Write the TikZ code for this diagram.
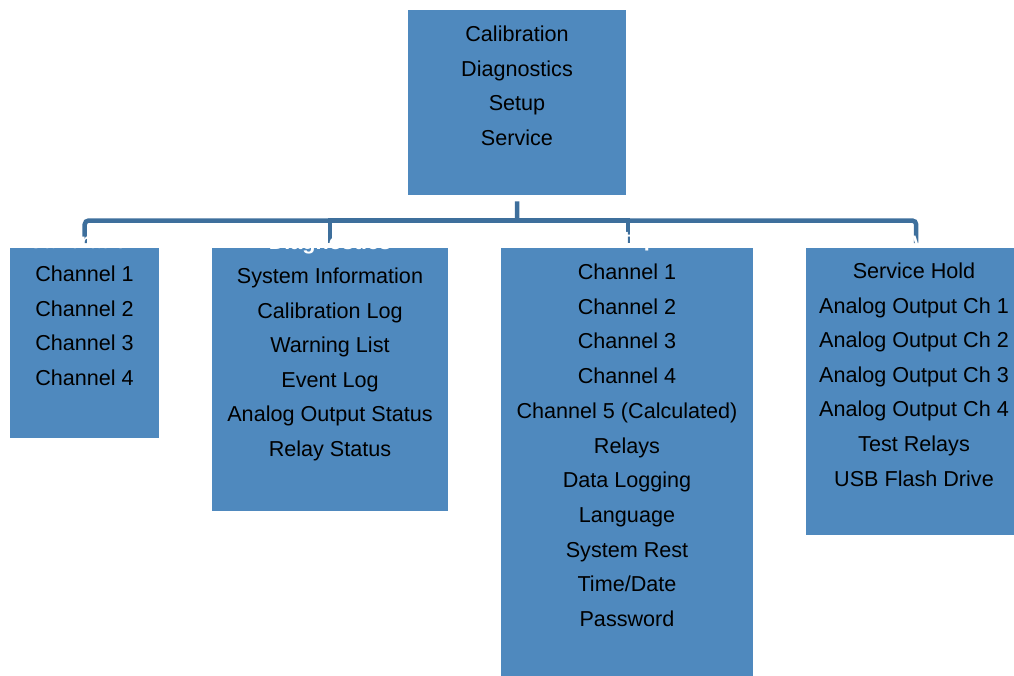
\documentclass[tikz,border=0pt]{standalone}
\usepackage{fontspec}
\setmainfont{Liberation Sans}
\definecolor{boxblue}{RGB}{79,137,190}
\definecolor{connblue}{RGB}{62,111,156}
\begin{document}
\begin{tikzpicture}[x=1pt,y=-1pt,
  box/.style={fill=boxblue,draw=none,inner sep=0pt,anchor=north west},
  lbl/.style={anchor=base,inner sep=0pt,font=\fontsize{21.6}{26}\selectfont,text=black},
  ttl/.style={anchor=base,inner sep=0pt,font=\fontsize{21.6}{26}\selectfont\bfseries,text=white},
  conn/.style={draw=connblue,line width=4.5pt}]
\useasboundingbox (0,0) rectangle (1014,675);
% boxes
\node[box,minimum width=218pt,minimum height=185pt] (top) at (408,10) {};
\node[box,minimum width=149pt,minimum height=190pt] (b1) at (10,248) {};
\node[box,minimum width=236pt,minimum height=263pt] (b2) at (212,248) {};
\node[box,minimum width=252pt,minimum height=432pt] (b3) at (501,248) {};
\node[box,minimum width=220pt,minimum height=287pt] (b4) at (806,248) {};
% connectors
\coordinate (hub) at (517,220.5);
\draw[conn] ([yshift=-6pt]top.south) -- (hub);
\draw[conn,rounded corners=4pt] ([yshift=5pt]b1.north) |- (hub) -| ([yshift=5pt]b4.north);
\draw[conn] (hub) -| ([yshift=5pt]b2.north);
\draw[conn] (hub) -| ([xshift=1pt,yshift=5pt]b3.north);
% texts
\foreach \t [count=\i] in {Calibration,Diagnostics,Setup,Service}
  \node[lbl] (t0-\i) at (517,{41.5+(\i-1)*34.6}) {\t};
\foreach \t [count=\i] in {Channel 1,Channel 2,Channel 3,Channel 4}
  \node[lbl] (t1-\i) at (84.5,{281.5+(\i-1)*34.6}) {\t};
\foreach \t [count=\i] in {System Information,Calibration Log,Warning List,Event Log,Analog Output Status,Relay Status}
  \node[lbl] (t2-\i) at (330,{283.5+(\i-1)*34.6}) {\t};
\foreach \t [count=\i] in {Channel 1,Channel 2,Channel 3,Channel 4,Channel 5 (Calculated),Relays,Data Logging,Language,System Rest,Time/Date,Password}
  \node[lbl] (t3-\i) at (627,{279.5+(\i-1)*34.7}) {\t};
\foreach \t [count=\i] in {Service Hold,Analog Output Ch 1,Analog Output Ch 2,Analog Output Ch 3,Analog Output Ch 4,Test Relays,USB Flash Drive}
  \node[lbl] (t4-\i) at (914,{278.5+(\i-1)*34.6}) {\t};
% white titles (mostly hidden)
\node[ttl] (h1) at (84,248.5) {Calibration};
\node[ttl] (h2) at (330,249) {Diagnostics};
\node[ttl] (h3) at (627,246.5) {Setup};
\node[ttl] (h4) at (916,247) {Service};
\end{tikzpicture}
\end{document}
